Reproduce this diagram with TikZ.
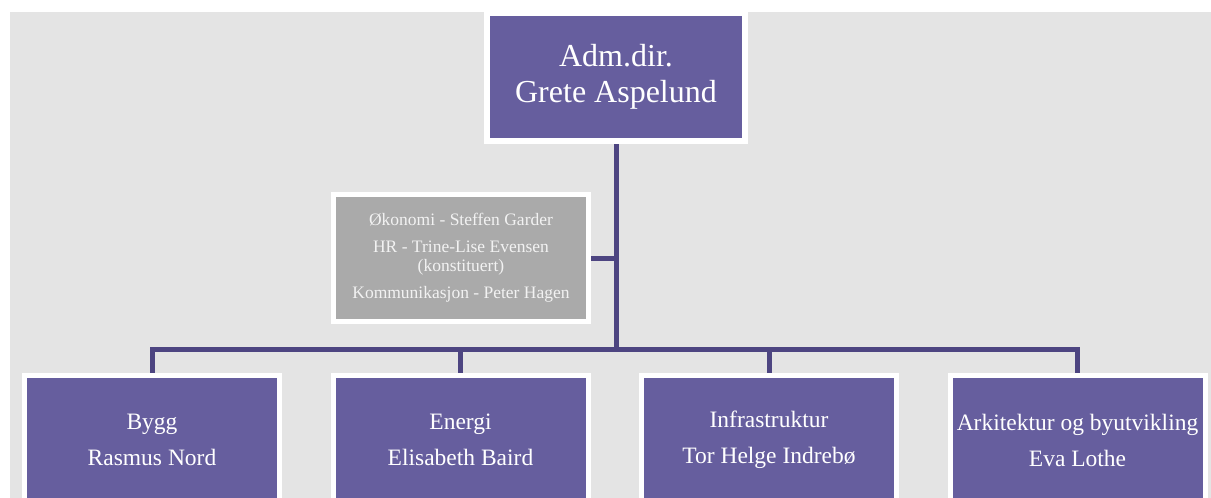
\documentclass[tikz,border=0pt]{standalone}
\usepackage{fontspec}
\setmainfont{Liberation Serif}
\usetikzlibrary{backgrounds}
\definecolor{bgc}{HTML}{E4E4E4}
\definecolor{boxc}{HTML}{665E9E}
\definecolor{linec}{HTML}{4D4581}
\definecolor{staffc}{HTML}{AAAAAA}
\definecolor{stafftext}{HTML}{F2F2F2}
\tikzset{
  topbox/.style={fill=boxc, draw=white, line width=6pt, minimum width=258pt, minimum height=128pt, inner sep=0pt, align=center, text=white, font=\fontsize{32}{36}\selectfont},
  unitbox/.style={fill=boxc, draw=white, line width=5pt, minimum width=255pt, minimum height=130pt, inner sep=0pt, align=center, text=white, font=\fontsize{23.5}{36}\selectfont},
  staffbox/.style={fill=staffc, draw=white, line width=5pt, minimum width=255pt, minimum height=127pt, inner sep=0pt, align=center, text=stafftext, font=\fontsize{17.5}{19}\selectfont},
  conn/.style={draw=linec, line width=5pt}
}
\begin{document}
\begin{tikzpicture}[x=1pt,y=-1pt]
\useasboundingbox (0,0) rectangle (1211,498);
\node[topbox] (top) at (616,77) {Adm.dir.\\Grete Aspelund};
\node[staffbox] (staff) at (461,258) {Økonomi - Steffen Garder\\[8pt]HR - Trine-Lise Evensen\\(konstituert)\\[8pt]Kommunikasjon - Peter Hagen};
\node[unitbox] (b1) at (152,440) {Bygg\\Rasmus Nord};
\node[unitbox] (b2) at (460.5,440) {Energi\\Elisabeth Baird};
\node[unitbox] (b3) at (769,440) {Infrastruktur\\Tor Helge Indrebø};
\node[unitbox] (b4) at (1077.5,440) {Arkitektur og byutvikling\\Eva Lothe};
\coordinate (bus) at (616,349);
\coordinate (sj) at (616,258);
\begin{scope}[on background layer]
\fill[white] (0,0) rectangle (1211,498);
\fill[bgc] (10,12) rectangle (1211,498);
\draw[conn] (top.south) -- (bus);
\draw[conn] (staff.east) -- (sj);
\draw[conn] (b1.north) -- (b1.north |- bus) -- (b4.north |- bus) -- (b4.north);
\draw[conn] (b2.north) -- (b2.north |- bus);
\draw[conn] (b3.north) -- (b3.north |- bus);
\end{scope}
\end{tikzpicture}
\end{document}
